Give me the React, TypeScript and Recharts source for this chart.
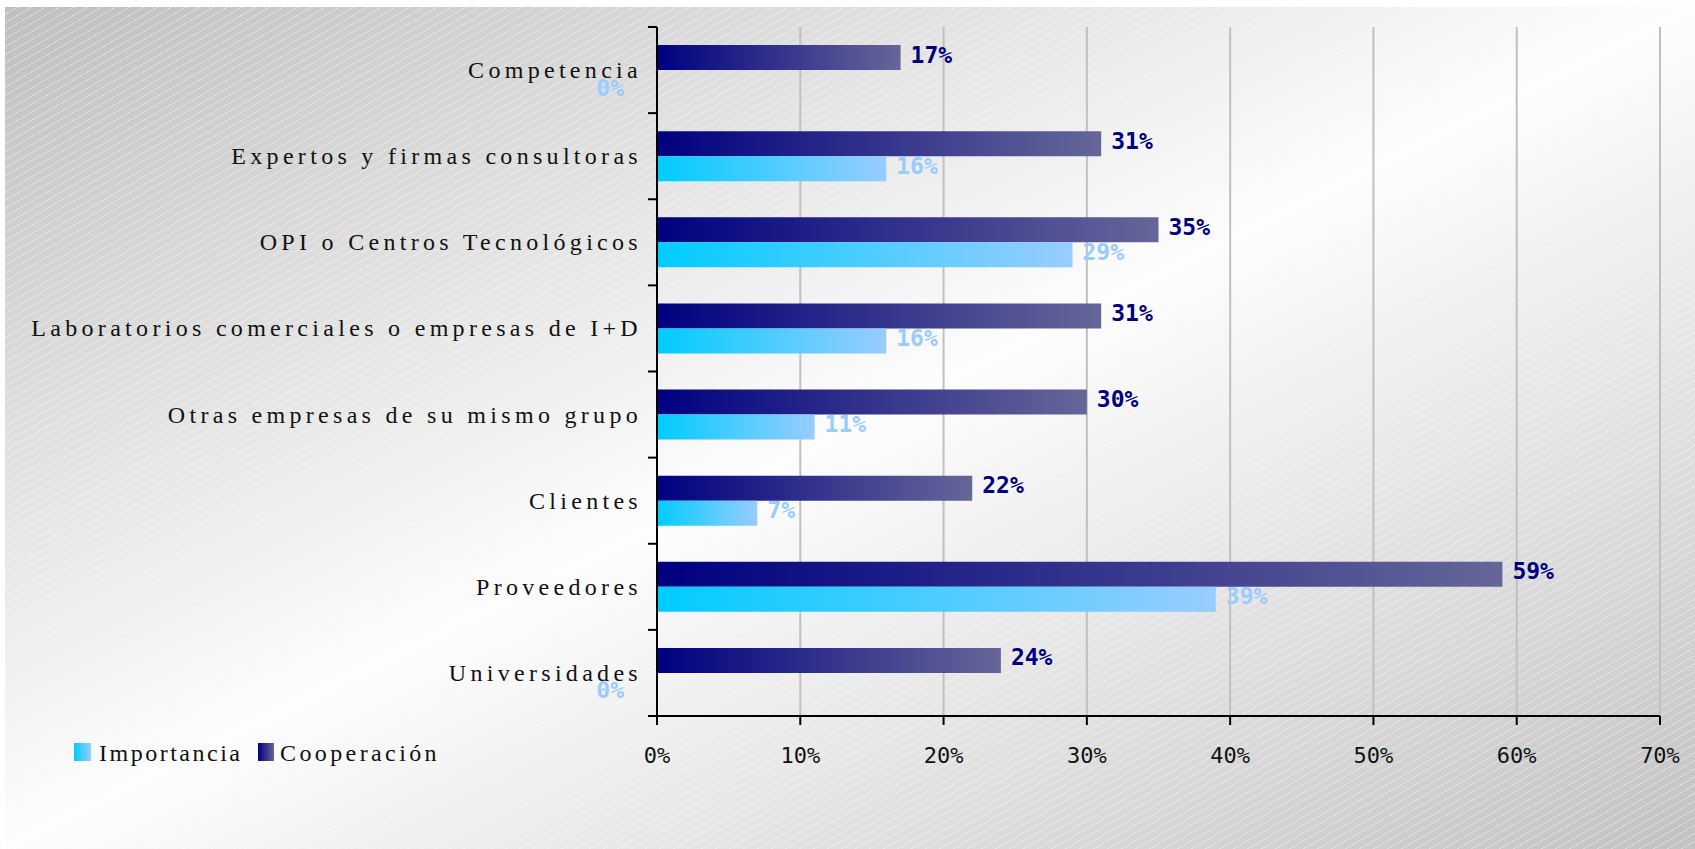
import React from "react";
import { BarChart, Bar, XAxis, YAxis, CartesianGrid, LabelList } from "recharts";

const categories = [
  "Competencia",
  "Expertos y firmas consultoras",
  "OPI o Centros Tecnológicos",
  "Laboratorios comerciales o empresas de I+D",
  "Otras empresas de su mismo grupo",
  "Clientes",
  "Proveedores",
  "Universidades",
];
const cooperacion = [17, 31, 35, 31, 30, 22, 59, 24];
const importancia = [0, 16, 29, 16, 11, 7, 39, 0];
const xTicks = [0, 10, 20, 30, 40, 50, 60, 70];
const seriesNames = ["Importancia", "Cooperación"];

const W = 1695;
const H = 849;
const PLOT_LEFT = 657;
const PLOT_TOP = 27;
const PLOT_BOTTOM = 716;
const PLOT_H = PLOT_BOTTOM - PLOT_TOP;

const data = categories.map((name, i) => ({
  name,
  cooperacion: cooperacion[i],
  importancia: importancia[i],
}));

const serif = "'Liberation Serif', 'Times New Roman', serif";
const mono = "'DejaVu Sans Mono', monospace";

function YTick(props: any) {
  const { y, payload, index } = props;
  const band = PLOT_H / categories.length;
  return (
    <g>
      <text
        x={PLOT_LEFT - 15}
        y={y}
        dy={8}
        textAnchor="end"
        fontFamily={serif}
        fontSize={24}
        letterSpacing={4.3}
        fill="#111"
      >
        {payload.value}
      </text>
      <line x1={PLOT_LEFT - 9} x2={PLOT_LEFT} y1={y - band / 2} y2={y - band / 2} stroke="#000" strokeWidth={2} />
      {index === categories.length - 1 && (
        <line x1={PLOT_LEFT - 9} x2={PLOT_LEFT} y1={y + band / 2} y2={y + band / 2} stroke="#000" strokeWidth={2} />
      )}
    </g>
  );
}

// zero values get their label pushed left of the axis, like the source chart
const valueLabel = (color: string) => (props: any) => {
  const { x, y, width, height, value } = props;
  const cy = Number(y) + Number(height) / 2;
  if (Number(value) === 0) {
    return (
      <text x={PLOT_LEFT - 33} y={cy + 13} textAnchor="end" fontFamily={mono} fontWeight="bold" fontSize={23} fill={color}>
        {value}%
      </text>
    );
  }
  return (
    <text x={Number(x) + Number(width) + 10} y={cy + 5} fontFamily={mono} fontWeight="bold" fontSize={23} fill={color}>
      {value}%
    </text>
  );
};

export default function App() {
  return (
    <div style={{ position: "absolute", left: 0, top: 0, width: W, height: H, background: "#fff", overflow: "hidden" }}>
      <style>{`body{margin:0;overflow:hidden}`}</style>
      <div
        style={{
          position: "absolute",
          left: 5,
          top: 7,
          right: 0,
          bottom: 0,
          background:
            "repeating-linear-gradient(150deg, rgba(255,255,255,0) 0px, rgba(255,255,255,0) 6px, rgba(255,255,255,0.35) 6px, rgba(255,255,255,0.35) 7px), linear-gradient(to bottom right, #bfbfbf 0%, #fdfdfd 50%, #c2c2c2 100%)",
        }}
      />
      <div style={{ position: "absolute", left: 0, top: 0 }}>
        <BarChart
          width={W}
          height={H}
          data={data}
          layout="vertical"
          margin={{ top: PLOT_TOP, right: 35, left: 17, bottom: 83 }}
          barSize={25}
          barGap={0}
        >
          <defs>
            <linearGradient id="gCoop" x1="0" y1="0" x2="1" y2="0">
              <stop offset="0%" stopColor="#000080" />
              <stop offset="100%" stopColor="#666699" />
            </linearGradient>
            <linearGradient id="gImp" x1="0" y1="0" x2="1" y2="0">
              <stop offset="0%" stopColor="#00CCFF" />
              <stop offset="100%" stopColor="#99CCFF" />
            </linearGradient>
          </defs>
          <CartesianGrid horizontal={false} stroke="#c0c0c0" strokeWidth={2} />
          <XAxis
            type="number"
            domain={[0, 70]}
            ticks={xTicks}
            tickFormatter={(v) => `${v}%`}
            height={50}
            axisLine={{ stroke: "#000", strokeWidth: 2 }}
            tickLine={{ stroke: "#000", strokeWidth: 2 }}
            tickSize={9}
            tickMargin={22}
            tick={{ fontFamily: mono, fontSize: 22, fill: "#111" }}
          />
          <YAxis
            type="category"
            dataKey="name"
            width={640}
            interval={0}
            axisLine={{ stroke: "#000", strokeWidth: 2 }}
            tickLine={false}
            tick={<YTick />}
          />
          <Bar dataKey="cooperacion" name={seriesNames[1]} fill="url(#gCoop)" isAnimationActive={false}>
            <LabelList dataKey="cooperacion" content={valueLabel("#000080")} />
          </Bar>
          <Bar dataKey="importancia" name={seriesNames[0]} fill="url(#gImp)" minPointSize={1} isAnimationActive={false}>
            <LabelList dataKey="importancia" content={valueLabel("#99CCFF")} />
          </Bar>
        </BarChart>
      </div>
      <svg width={W} height={H} style={{ position: "absolute", left: 0, top: 0, pointerEvents: "none" }}>
        <defs>
          <linearGradient id="lgImp" x1="0" y1="0" x2="1" y2="0">
            <stop offset="0%" stopColor="#00CCFF" />
            <stop offset="100%" stopColor="#99CCFF" />
          </linearGradient>
          <linearGradient id="lgCoop" x1="0" y1="0" x2="1" y2="0">
            <stop offset="0%" stopColor="#000080" />
            <stop offset="100%" stopColor="#666699" />
          </linearGradient>
        </defs>
        <rect x={74} y={743} width={17} height={18} fill="url(#lgImp)" />
        <text x={99} y={761} fontFamily={serif} fontSize={24} letterSpacing={2.5} fill="#111">
          {seriesNames[0]}
        </text>
        <rect x={258} y={743} width={16} height={18} fill="url(#lgCoop)" />
        <text x={280} y={761} fontFamily={serif} fontSize={24} letterSpacing={3.4} fill="#111">
          {seriesNames[1]}
        </text>
      </svg>
    </div>
  );
}
